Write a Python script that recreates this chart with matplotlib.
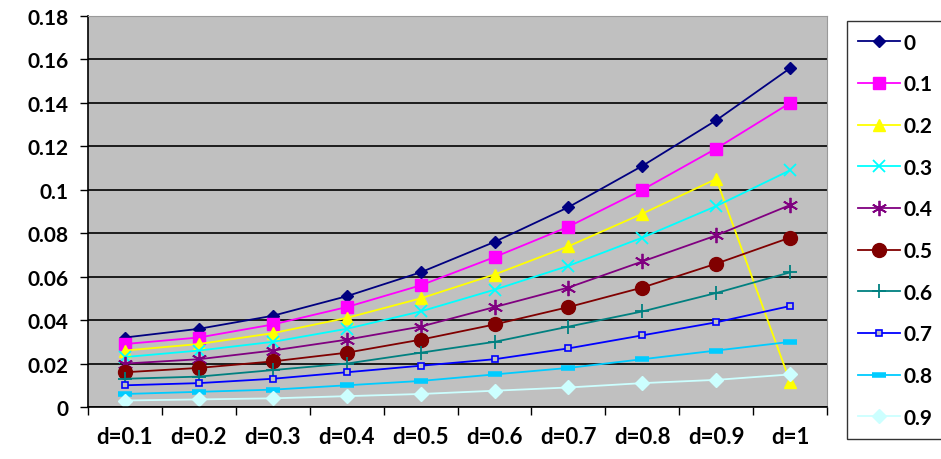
import matplotlib
matplotlib.use("Agg")
import matplotlib.pyplot as plt
import numpy as np

categories = ["d=0.1", "d=0.2", "d=0.3", "d=0.4", "d=0.5", "d=0.6", "d=0.7", "d=0.8", "d=0.9", "d=1"]
series_names = ["0", "0.1", "0.2", "0.3", "0.4", "0.5", "0.6", "0.7", "0.8", "0.9"]
s0 = [0.032, 0.036, 0.042, 0.051, 0.062, 0.076, 0.092, 0.111, 0.132, 0.156]
s1 = [0.029, 0.032, 0.038, 0.046, 0.056, 0.069, 0.083, 0.100, 0.119, 0.140]
s2 = [0.026, 0.029, 0.034, 0.041, 0.050, 0.061, 0.074, 0.089, 0.105, 0.0115]
s3 = [0.023, 0.026, 0.030, 0.036, 0.044, 0.054, 0.065, 0.078, 0.0925, 0.109]
s4 = [0.020, 0.022, 0.026, 0.031, 0.037, 0.046, 0.055, 0.067, 0.079, 0.093]
s5 = [0.016, 0.018, 0.021, 0.025, 0.031, 0.038, 0.046, 0.055, 0.066, 0.078]
s6 = [0.013, 0.014, 0.017, 0.020, 0.025, 0.030, 0.037, 0.044, 0.0525, 0.062]
s7 = [0.010, 0.011, 0.013, 0.016, 0.019, 0.022, 0.027, 0.033, 0.039, 0.0465]
s8 = [0.006, 0.007, 0.008, 0.010, 0.012, 0.015, 0.018, 0.022, 0.026, 0.030]
s9 = [0.003, 0.0035, 0.004, 0.005, 0.006, 0.0075, 0.009, 0.011, 0.0125, 0.015]
values = [s0, s1, s2, s3, s4, s5, s6, s7, s8, s9]

colors = ["#000080", "#FF00FF", "#FFFF00", "#00FFFF", "#800080",
          "#800000", "#008080", "#0000FF", "#00CCFF", "#CCFFFF"]
markers = ["D", "s", "^", "x", (6, 2, 0), "o", "+", "s", "s", "D"]
msizes = [6, 9, 9, 8, 11, 10, 10, 4, 4, 7]

plt.rcParams['font.family'] = ['Lato', 'DejaVu Sans']
fig = plt.figure(figsize=(9.41, 4.60), dpi=100)
ax = fig.add_axes([0.0935, 0.113, 0.7855, 0.850])
ax.set_facecolor("#C0C0C0")

x = np.arange(len(categories))
for i, (name, vals) in enumerate(zip(series_names, values)):
    kw = dict(color=colors[i], marker=markers[i], markersize=msizes[i], lw=1.3,
              markeredgecolor=colors[i], label=name)
    if i == 7:
        kw.update(markersize=5, markeredgewidth=1.2, markerfacecolor="#C0C0C0")
    elif i == 8:
        kw.update(marker="_", markersize=10, markeredgewidth=4)
    elif markers[i] in ("x", "+") or isinstance(markers[i], tuple):
        kw.update(markeredgewidth=1.3)
    ax.plot(x, vals, **kw)

ax.set_xlim(-0.5, len(categories) - 0.5)
ax.set_ylim(0, 0.18)
yt = np.round(np.arange(0, 0.181, 0.02), 2)
ax.set_yticks(yt)
ax.set_yticklabels(["0" if v == 0 else ("%g" % v) for v in yt], fontsize=15, fontweight="bold")
ax.yaxis.grid(True, color="black", lw=1.2)
ax.set_axisbelow(True)

ax.set_xticks(np.arange(-0.5, len(categories), 1.0))
ax.set_xticklabels([])
ax.set_xticks(x, minor=True)
ax.set_xticklabels(categories, minor=True, fontsize=16, fontweight="bold")
ax.tick_params(axis="x", which="major", direction="out", length=6, width=1, colors="black")
ax.tick_params(axis="x", which="minor", length=0, pad=14)
ax.tick_params(axis="y", direction="out", length=6, width=1, pad=8)

for side in ["left", "bottom"]:
    ax.spines[side].set_color("black")
    ax.spines[side].set_linewidth(1.2)
ax.spines["top"].set_color("#9A9A9A")
ax.spines["right"].set_color("#9A9A9A")

leg = fig.legend(loc="upper left", bbox_to_anchor=(0.9, 0.952), frameon=True,
                 fancybox=False, edgecolor="black", fontsize=15, handlelength=2.0,
                 labelspacing=1.04, borderpad=0.55, handletextpad=0.15,
                 borderaxespad=0)
for t in leg.get_texts():
    t.set_fontweight("bold")
leg.get_frame().set_linewidth(1.0)

fig.savefig("out.png", dpi=100)
